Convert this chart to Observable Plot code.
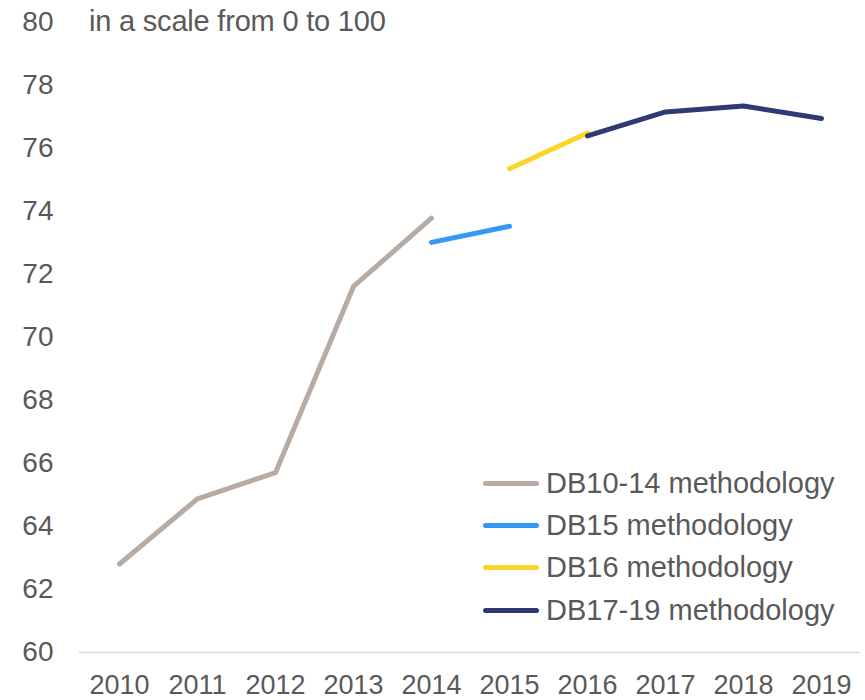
<!DOCTYPE html>
<html>
<head>
<meta charset="utf-8">
<script src="https://cdn.jsdelivr.net/npm/d3@7"></script>
<script src="https://cdn.jsdelivr.net/npm/@observablehq/plot@0.6"></script>
<style>
  body { margin: 0; background: #fff; }
  #wrap { position: relative; width: 865px; height: 700px; font-family: "Liberation Sans", Arial, sans-serif; color: #595959; }
  #subtitle { position: absolute; left: 89px; top: 4px; font-size: 29px; line-height: 34px; white-space: nowrap; letter-spacing: -0.2px; }
  #legend { position: absolute; left: 481px; top: 462px; font-size: 29px; }
  .row { display: flex; align-items: center; height: 42.3px; white-space: nowrap; }
  .sw { width: 56px; height: 5px; border-radius: 3px; margin-right: 7px; margin-left: 2px; }
</style>
</head>
<body>
<div id="wrap">
  <div id="chart"></div>
  <div id="subtitle"></div>
  <div id="legend"></div>
</div>
<script>
const years = ["2010","2011","2012","2013","2014","2015","2016","2017","2018","2019"];
const yTicks = [60,62,64,66,68,70,72,74,76,78,80];
const subtitle = "in a scale from 0 to 100";
const seriesNames = ["DB10-14 methodology","DB15 methodology","DB16 methodology","DB17-19 methodology"];
const seriesColors = ["#b7aba4","#3399f5","#fdd526","#2f3a72"];

const db1014Years = ["2010","2011","2012","2013","2014"];
const db1014Values = [62.81, 64.88, 65.71, 71.62, 73.79];
const db15Years = ["2014","2015"];
const db15Values = [73.02, 73.53];
const db16Years = ["2015","2016"];
const db16Values = [75.36, 76.49];
const db1719Years = ["2016","2017","2018","2019"];
const db1719Values = [76.40, 77.16, 77.35, 76.95];

const seriesYears = [db1014Years, db15Years, db16Years, db1719Years];
const seriesValues = [db1014Values, db15Values, db16Values, db1719Values];
const data = [];
seriesNames.forEach((s, i) => {
  seriesYears[i].forEach((yr, j) => data.push({series: s, year: yr, value: seriesValues[i][j]}));
});

const font = '"Liberation Sans", Arial, sans-serif';
const chart = Plot.plot({
  width: 865,
  height: 700,
  marginLeft: 79,
  marginRight: 5,
  marginTop: 22,
  marginBottom: 48,
  style: {fontFamily: font, color: "#595959", background: "#fff"},
  x: {type: "point", domain: years, padding: 0.5},
  y: {domain: [60, 80]},
  color: {domain: seriesNames, range: seriesColors},
  marks: [
    Plot.ruleY([60], {stroke: "#d9d9d9", strokeWidth: 1.5}),
    Plot.axisY({ticks: yTicks, tickSize: 0, tickPadding: 26, fontSize: 28, fill: "#595959", label: null}),
    Plot.axisX({tickSize: 0, tickPadding: 22, fontSize: 27, fill: "#595959", label: null}),
    Plot.line(data, {x: "year", y: "value", z: "series", stroke: "series", strokeWidth: 5, strokeLinecap: "round", strokeLinejoin: "round"})
  ]
});
document.getElementById("chart").appendChild(chart);

document.getElementById("subtitle").textContent = subtitle;
const leg = d3.select("#legend");
seriesNames.forEach((s, i) => {
  const r = leg.append("div").attr("class", "row");
  r.append("div").attr("class", "sw").style("background", seriesColors[i]);
  r.append("span").text(s);
});
</script>
</body>
</html>
